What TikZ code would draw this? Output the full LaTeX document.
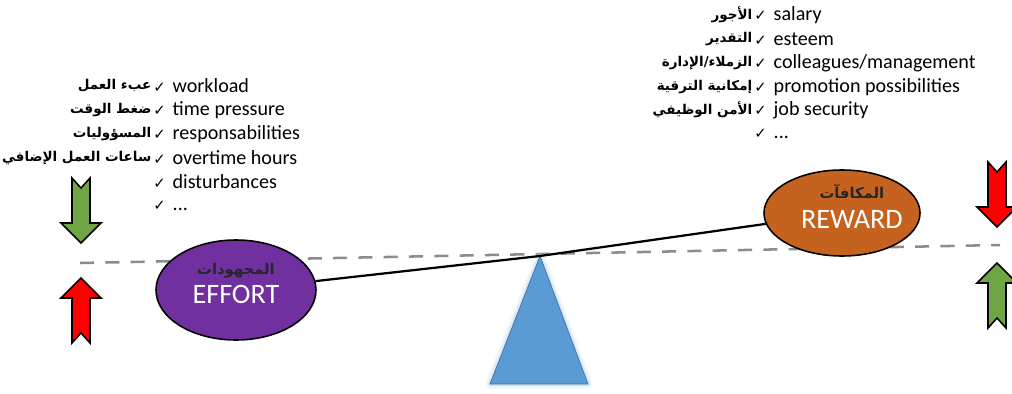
\documentclass[tikz,border=0pt]{standalone}
\usepackage{fontspec}
\setmainfont{Carlito}
\newfontfamily\arabicfont[Script=Arabic]{DejaVu Sans}
\newfontfamily\symfont{DejaVu Sans}
\TeXXeTstate=1
\usetikzlibrary{shapes.geometric}
\usepackage{xcolor}

\definecolor{effortpurple}{HTML}{7030A0}
\definecolor{rewardorange}{HTML}{C5621F}
\definecolor{arrowgreen}{HTML}{6FA544}
\definecolor{arrowred}{HTML}{FF0000}
\definecolor{pivotblue}{HTML}{5B9BD5}
\definecolor{pivotedge}{HTML}{41719C}
\definecolor{levelgray}{HTML}{8C8C8C}

\newcommand{\chk}{{\symfont\fontsize{10.5}{10.5}\selectfont ✓}\hspace{5pt}}

\tikzset{
  listitem/.style={anchor=west, inner sep=0pt},
  arlabel/.style={anchor=east, inner sep=0pt, xshift=-1pt, font=\arabicfont\bfseries\fontsize{9.6}{12}\selectfont},
  plate/.style={ellipse, draw=black, line width=1.1pt, inner sep=0pt},
  platetext/.style={align=center, text=white, inner sep=0pt, font=\fontsize{20}{20}\selectfont},
  notcharrow/.pic={
    \draw[pic actions, line width=1.1pt, line join=miter]
      (-9,0) -- (0,10) -- (9,0) -- (9,45) -- (20,45) -- (0,65) -- (-20,45) -- (-9,45) -- cycle;
  }
}

\begin{document}
\begin{tikzpicture}[x=0.025cm, y=-0.025cm, font=\fontsize{14.3}{17}\selectfont]
  \useasboundingbox (0,0) rectangle (1012,394);

  % level line
  \coordinate (levelL) at (80,263);
  \coordinate (levelR) at (1000,245);
  \draw[levelgray, line width=1.8pt, dash pattern=on 10pt off 8pt] (levelL) -- (levelR);

  % fulcrum
  \coordinate (apex) at (540,256);
  \coordinate (baseL) at (490,384);
  \coordinate (baseR) at (588,384);
  \foreach \w/\o in {7pt/0.15, 4.5pt/0.25, 2.5pt/0.4}
    \draw[pivotblue!40, line width=\w, opacity=\o, line join=round] (apex) -- (baseL) -- (baseR) -- cycle;
  \filldraw[fill=pivotblue, draw=pivotedge, line width=0.5pt] (apex) -- (baseL) -- (baseR) -- cycle;

  % scale plates
  \node[plate, fill=effortpurple, minimum width=4cm, minimum height=2.5cm] (effort) at (236,290) {};
  \node[plate, fill=rewardorange, minimum width=3.9cm, minimum height=2.15cm] (reward) at (842,213) {};
  \node[platetext] (efforttext) at ([yshift=4.5pt]effort.center)
    {{\arabicfont\bfseries\fontsize{10.5}{12}\selectfont\color{black!85}\beginR المجهودات\endR}\\[1pt]EFFORT};
  \node[platetext] (rewardtext) at ([xshift=7pt, yshift=4.5pt]reward.center)
    {{\arabicfont\bfseries\fontsize{10.5}{12}\selectfont\color{black!85}\beginR المكافآت\endR}\\[1pt]REWARD};

  % beam
  \draw[line width=1.6pt] (effort) -- (apex) -- (reward);

  % effort list
  \node[listitem] (w1) at (153,86) {\chk workload};
  \node[listitem] (w2) at (153,110) {\chk time pressure};
  \node[listitem] (w3) at (153,134) {\chk responsabilities};
  \node[listitem] (w4) at (153,158) {\chk overtime hours};
  \node[listitem] (w5) at (153,182) {\chk disturbances};
  \node[listitem] (w6) at (153,206) {\chk ...};
  \node[arlabel] (a1) at (w1.west) {\beginR عبء العمل\endR};
  \node[arlabel] (a2) at (w2.west) {\beginR ضغط الوقت\endR};
  \node[arlabel] (a3) at (w3.west) {\beginR المسؤوليات\endR};
  \node[arlabel] (a4) at (w4.west) {\beginR ساعات العمل الإضافي\endR};

  % reward list
  \node[listitem] (r1) at (754,15) {\chk salary};
  \node[listitem] (r2) at (754,39) {\chk esteem};
  \node[listitem] (r3) at (754,63) {\chk colleagues/management};
  \node[listitem] (r4) at (754,87) {\chk promotion possibilities};
  \node[listitem] (r5) at (754,110) {\chk job security};
  \node[listitem] (r6) at (754,134) {\chk ...};
  \node[arlabel] (b1) at (r1.west) {\beginR الأجور\endR};
  \node[arlabel] (b2) at (r2.west) {\beginR التقدير\endR};
  \node[arlabel] (b3) at (r3.west) {\beginR الزملاء/الإدارة\endR};
  \node[arlabel] (b4) at (r4.west) {\beginR إمكانية الترقية\endR};
  \node[arlabel] (b5) at (r5.west) {\beginR الأمن الوظيفي\endR};

  % arrows
  \pic[fill=arrowgreen] at (81,178) {notcharrow};
  \pic[fill=arrowred, rotate=180] at (81,343) {notcharrow};
  \pic[fill=arrowred] at (997,162) {notcharrow};
  \pic[fill=arrowgreen, rotate=180] at (997,328) {notcharrow};
\end{tikzpicture}
\end{document}
